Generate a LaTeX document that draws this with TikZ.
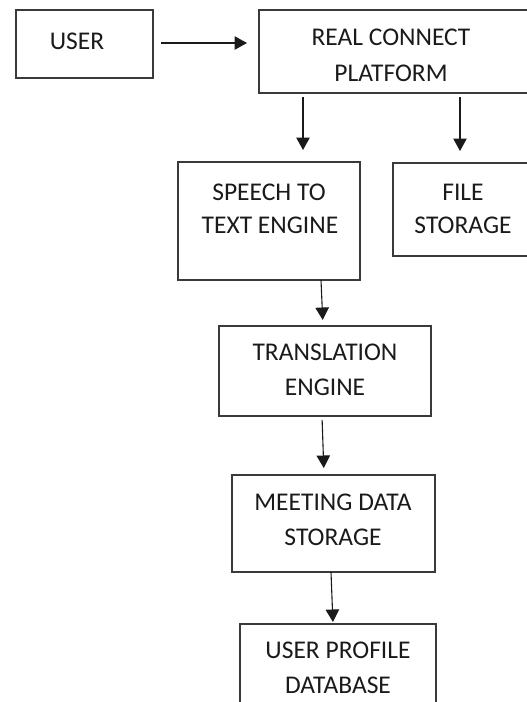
\documentclass[tikz,border=0pt]{standalone}
\usepackage{fontspec}
\setmainfont{Carlito}
\usetikzlibrary{arrows.meta}
\definecolor{edge}{HTML}{3A3A3A}
\definecolor{ink}{HTML}{1A1A1A}
\begin{document}
\begin{tikzpicture}[x=1pt,y=-1pt,
  box/.style={draw=edge, line width=1.3pt, inner sep=0pt, outer sep=0pt,
              anchor=north west, rectangle},
  lbl/.style={text=ink, inner sep=0pt, font=\fontsize{25.5}{30}\selectfont},
  flow/.style={draw=ink, line width=1.1pt, -{Triangle[width=13.5pt,length=12.5pt]}}]
\useasboundingbox (0,0) rectangle (527,702);
\clip (0,0) rectangle (527,702);
% boxes
\node[box, minimum width=137pt, minimum height=68pt] (userbox) at (16,10) {};
\node[box, minimum width=281pt, minimum height=83pt] (platbox) at (259,10) {};
\node[box, minimum width=182pt, minimum height=118pt] (sttbox) at (178,162) {};
\node[box, minimum width=147pt, minimum height=93pt] (filebox) at (393,163) {};
\node[box, minimum width=212pt, minimum height=90pt] (trbox) at (219,326) {};
\node[box, minimum width=203pt, minimum height=97pt] (mdbox) at (232,475) {};
\node[box, minimum width=196pt, minimum height=96pt] (upbox) at (240,624) {};
% labels
\node[lbl] (user) at (77,41) {USER};
\node[lbl] (plat1) at (391,37) {REAL CONNECT};
\node[lbl] (plat2) at (391,73) {PLATFORM};
\node[lbl] (stt1) at (269,192) {SPEECH TO};
\node[lbl] (stt2) at (270,225) {TEXT ENGINE};
\node[lbl] (file1) at (463,192) {FILE};
\node[lbl] (file2) at (463,225) {STORAGE};
\node[lbl] (tr1) at (325,352) {TRANSLATION};
\node[lbl] (tr2) at (325,387) {ENGINE};
\node[lbl] (md1) at (333,502) {MEETING DATA};
\node[lbl] (md2) at (333,537) {STORAGE};
\node[lbl] (up1) at (338,650) {USER PROFILE};
\node[lbl] (up2) at (338,685) {DATABASE};
% connectors
\draw[flow, shorten <=8pt, shorten >=12pt]
  ([yshift=-33pt]userbox.north east) -- ([yshift=-33pt]platbox.north west);
\draw[flow, shorten <=4pt, shorten >=12pt]
  ([xshift=44pt]platbox.south west) -- ([xshift=44pt,yshift=-69pt]platbox.south west);
\draw[flow, shorten <=4pt, shorten >=12pt]
  ([xshift=201pt]platbox.south west) -- ([xshift=67pt]filebox.north west);
\draw[flow, shorten >=6pt]
  ([xshift=143pt]sttbox.south west) -- ([xshift=104pt]trbox.north west);
\draw[flow, shorten <=4pt, shorten >=7pt]
  ([xshift=103pt]trbox.south west) -- ([xshift=92pt]mdbox.north west);
\draw[flow, shorten >=2pt]
  ([xshift=99pt]mdbox.south west) -- ([xshift=93pt]upbox.north west);
\end{tikzpicture}
\end{document}
